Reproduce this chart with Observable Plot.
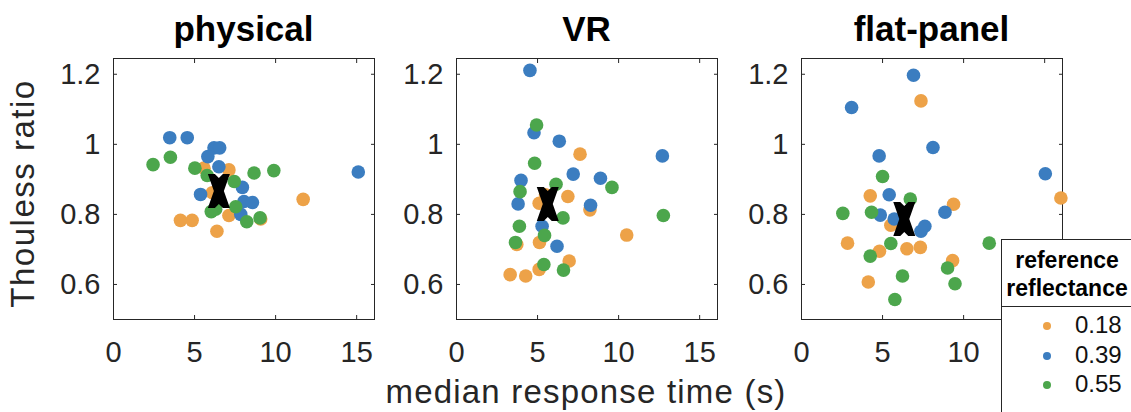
<!DOCTYPE html>
<html>
<head>
<meta charset="utf-8">
<script src="https://cdn.jsdelivr.net/npm/d3@7"></script>
<script src="https://cdn.jsdelivr.net/npm/@observablehq/plot@0.6"></script>
<style>
  body { margin: 0; background: #fff; }
  #root { position: relative; width: 1131px; height: 412px; overflow: hidden;
          font-family: "Liberation Sans", Arial, Helvetica, sans-serif; color: #262626; background: #fff; }
  .panel { position: absolute; }
  .title { position: absolute; width: 300px; text-align: center; font-weight: bold; font-size: 35px;
           line-height: 35px; color: #000; white-space: nowrap; }
  #xlabel { position: absolute; left: 286px; width: 600px; text-align: center; font-size: 33px; line-height: 33px;
            letter-spacing: 1.2px; top: 375px; white-space: nowrap; }
  #ylabel { position: absolute; width: 320px; text-align: center; font-size: 33px; line-height: 33px;
            letter-spacing: 1.5px; left: -138px; top: 177px; transform: rotate(-90deg); white-space: nowrap; }
  #legend { position: absolute; left: 1001px; top: 239px; width: 140px; height: 190px; background: #fff;
            border: 1px solid #262626; box-sizing: border-box; z-index: 5; }
  #legend .lt { position: absolute; left: -10px; width: 150px; text-align: center; font-weight: bold;
                font-size: 23px; line-height: 23px; color: #000; white-space: nowrap; }
  #legend .sep { position: absolute; left: 0; right: 0; top: 66px; border-top: 1px solid #262626; }
  #legend .item { position: absolute; left: 73px; font-size: 24px; line-height: 24px; color: #111; white-space: nowrap; }
  #legend .sw { position: absolute; left: -32px; top: 9px; width: 8px; height: 8px; border-radius: 50%; }
</style>
</head>
<body>
<div id="root"></div>
<script>
// ---- data ----
const conditions = ["physical", "VR", "flat-panel"];
const reflectances = ["0.18", "0.39", "0.55"];
const colors = ["#EDA248", "#3B7DC0", "#4CA64C"];
const xTicks = [0, 5, 10, 15];
const yTicks = [0.6, 0.8, 1, 1.2];
const xDomain = [0, 16.1];
const yDomain = [0.5, 1.245];

// [median response time (s), Thouless ratio]
const physical_018 = [[4.13,0.783],[4.85,0.783],[6.38,0.752],[7.12,0.797],[9.08,0.787],[11.7,0.843],[5.58,0.932],[7.12,0.927],[6.1,0.862]];
const physical_039 = [[3.47,1.019],[4.55,1.019],[6.2,0.99],[6.55,0.99],[5.82,0.965],[6.5,0.936],[7.95,0.877],[5.37,0.857],[8.05,0.837],[8.57,0.834],[7.85,0.80],[15.1,0.921]];
const physical_055 = [[2.44,0.942],[3.51,0.963],[5.02,0.932],[5.78,0.911],[7.45,0.894],[8.67,0.918],[9.89,0.925],[7.54,0.822],[6.3,0.815],[6.03,0.808],[8.22,0.779],[9.04,0.79]];

const vr_018 = [[7.62,0.972],[6.87,0.851],[5.49,0.856],[5.1,0.832],[8.23,0.813],[10.5,0.741],[5.12,0.72],[3.72,0.714],[6.95,0.667],[5.1,0.643],[3.31,0.628],[4.27,0.624]];
const vr_039 = [[4.53,1.211],[4.78,1.033],[6.34,1.009],[12.7,0.967],[7.2,0.915],[8.88,0.903],[3.98,0.897],[3.8,0.83],[8.27,0.826],[5.28,0.766],[6.2,0.709]];
const vr_055 = [[4.94,1.055],[4.82,0.946],[6.14,0.886],[3.92,0.865],[9.59,0.877],[6.57,0.79],[12.76,0.797],[3.88,0.766],[3.64,0.72],[5.43,0.74],[5.39,0.657],[6.6,0.641]];

const flat_018 = [[7.37,1.124],[4.24,0.853],[9.38,0.829],[5.51,0.769],[2.84,0.718],[4.81,0.695],[6.5,0.702],[7.33,0.706],[9.32,0.668],[4.12,0.607],[16.0,0.847]];
const flat_039 = [[6.91,1.197],[3.09,1.105],[8.11,0.991],[4.79,0.967],[15.04,0.916],[5.41,0.856],[8.85,0.806],[4.86,0.798],[5.72,0.787],[7.61,0.766],[7.37,0.752]];
const flat_055 = [[5.0,0.908],[6.71,0.844],[2.55,0.803],[4.32,0.806],[5.51,0.717],[11.58,0.718],[4.24,0.681],[9.01,0.647],[6.23,0.624],[9.47,0.602],[5.76,0.557]];

const meanTime = [6.5, 5.63, 6.34];
const meanRatio = [0.867, 0.83, 0.787];

const groups = [
  [physical_018, physical_039, physical_055],
  [vr_018, vr_039, vr_055],
  [flat_018, flat_039, flat_055]
];

// ---- layout ----
const frameLeft = [113, 456, 801];
const frameW = 261, frameH = 261, frameTop = 58;
const mL = 70, mR = 15, mT = 15, mB = 60;

// heavy bow-tie "x" marker shape for the mean
const bowtie = {
  draw(context) {
    const pts = [[-11,-17],[-4,-17],[0,-13],[4,-17],[11,-17],[5,0],[11,17],[4,17],[0,13],[-4,17],[-11,17],[-5,0]];
    context.moveTo(pts[0][0], pts[0][1]);
    for (let k = 1; k < pts.length; k++) context.lineTo(pts[k][0], pts[k][1]);
    context.closePath();
  }
};

const root = document.getElementById("root");

conditions.forEach((cond, i) => {
  const data = [];
  reflectances.forEach((r, j) => groups[i][j].forEach(([t, v]) => data.push({time: t, ratio: v, refl: r})));
  const chart = Plot.plot({
    width: mL + frameW + mR,
    height: mT + frameH + mB,
    marginLeft: mL, marginRight: mR, marginTop: mT, marginBottom: mB,
    style: {fontFamily: "'Liberation Sans', Arial, Helvetica, sans-serif", fontSize: "29px",
            color: "#262626", background: "transparent", overflow: "visible"},
    x: {domain: xDomain},
    y: {domain: yDomain},
    color: {domain: reflectances, range: colors},
    marks: [
      Plot.axisX({anchor: "bottom", ticks: xTicks, tickSize: 0, tickPadding: 22, label: null, tickFormat: d => `${d}`}),
      Plot.axisX({anchor: "bottom", ticks: xTicks, tickSize: 4, dy: -4, tickFormat: () => "", label: null}),
      Plot.axisX({anchor: "top", ticks: xTicks, tickSize: 4, dy: 4, tickFormat: () => "", label: null}),
      Plot.axisY({anchor: "left", ticks: yTicks, tickSize: 0, tickPadding: 13, label: null, tickFormat: d => `${d}`}),
      Plot.axisY({anchor: "left", ticks: yTicks, tickSize: 4, dx: 4, tickFormat: () => "", label: null}),
      Plot.axisY({anchor: "right", ticks: yTicks, tickSize: 4, dx: -4, tickFormat: () => "", label: null}),
      Plot.frame({stroke: "#262626", strokeWidth: 1}),
      Plot.dot(data, {x: "time", y: "ratio", fill: "refl", r: 6.8}),
      Plot.dot([{time: meanTime[i], ratio: meanRatio[i]}],
               {x: "time", y: "ratio", symbol: bowtie, fill: "black", stroke: "none"})
    ]
  });
  chart.classList.add("panel");
  chart.style.left = (frameLeft[i] - mL) + "px";
  chart.style.top = (frameTop - mT) + "px";
  root.appendChild(chart);

  const t = document.createElement("div");
  t.className = "title";
  t.textContent = cond;
  t.style.left = (frameLeft[i] + frameW / 2 - 150) + "px";
  t.style.top = "11px";
  root.appendChild(t);
});

const xl = document.createElement("div");
xl.id = "xlabel"; xl.textContent = "median response time (s)";
root.appendChild(xl);
const yl = document.createElement("div");
yl.id = "ylabel"; yl.textContent = "Thouless ratio";
root.appendChild(yl);

// legend
const lg = document.createElement("div");
lg.id = "legend";
const legendTitle = ["reference", "reflectance"];
legendTitle.forEach((s, k) => {
  const d = document.createElement("div");
  d.className = "lt"; d.textContent = s;
  d.style.top = (9 + k * 28) + "px";
  lg.appendChild(d);
});
const sep = document.createElement("div"); sep.className = "sep"; lg.appendChild(sep);
reflectances.forEach((r, k) => {
  const it = document.createElement("div");
  it.className = "item";
  it.style.top = (73 + k * 29.7) + "px";
  const sw = document.createElement("span");
  sw.className = "sw"; sw.style.background = colors[k];
  it.appendChild(sw);
  it.appendChild(document.createTextNode(r));
  lg.appendChild(it);
});
root.appendChild(lg);
</script>
</body>
</html>
